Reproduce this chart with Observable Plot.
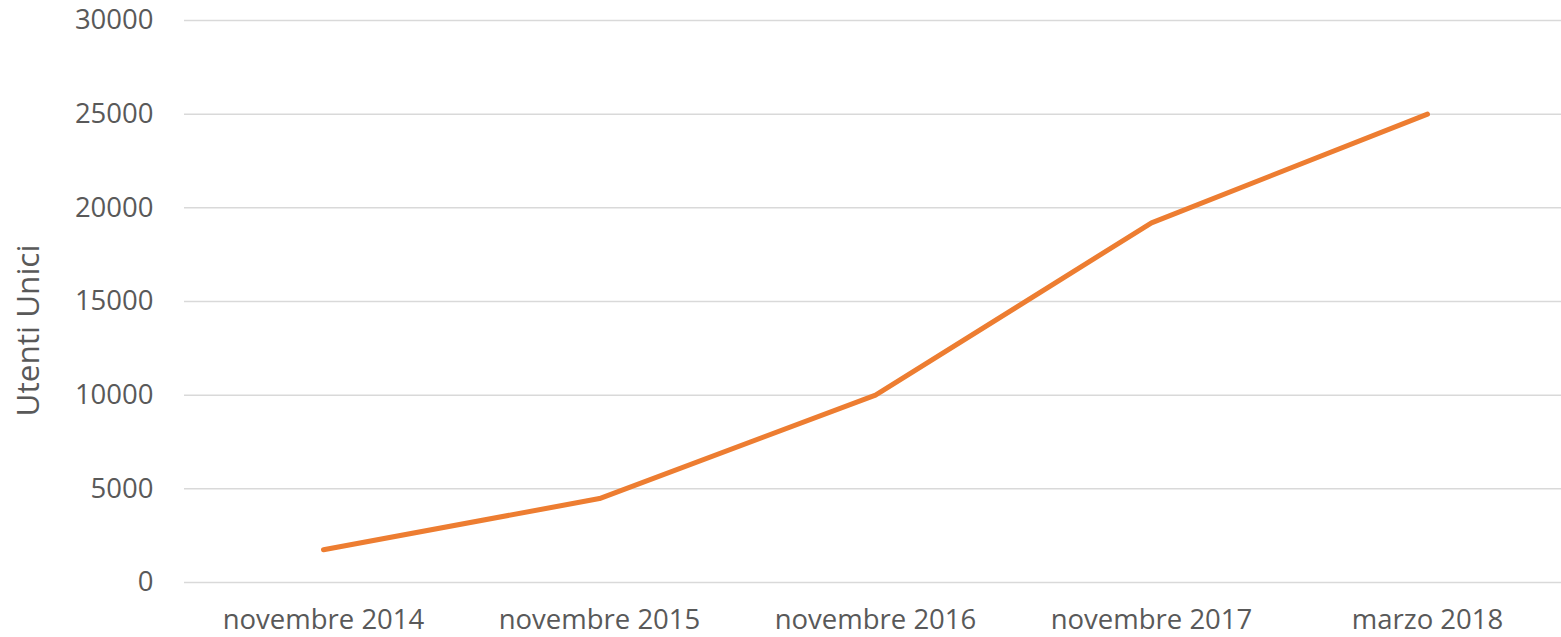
<!DOCTYPE html>
<html>
<head>
<meta charset="utf-8">
<script src="https://cdn.jsdelivr.net/npm/d3@7"></script>
<script src="https://cdn.jsdelivr.net/npm/@observablehq/plot@0.6"></script>
<style>
  html, body { margin: 0; padding: 0; background: #fff; overflow: hidden; }
  #chart svg { display: block; }
</style>
</head>
<body>
<div id="chart"></div>
<script>
const periods = ["novembre 2014", "novembre 2015", "novembre 2016", "novembre 2017", "marzo 2018"];
const utenti = [1750, 4480, 10000, 19200, 25000];
const yTicks = [0, 5000, 10000, 15000, 20000, 25000, 30000];
const yLabel = "Utenti Unici";

const data = periods.map((p, i) => ({period: p, value: utenti[i]}));

const font = "'Open Sans', sans-serif";
const textColor = "#595959";

const chart = Plot.plot({
  width: 1561,
  height: 637,
  marginLeft: 184,
  marginRight: 0,
  marginTop: 20,
  marginBottom: 55,
  style: {fontFamily: font, color: textColor, background: "#fff"},
  x: {type: "point", domain: periods, range: [321.5, 1428.5], padding: 0},
  y: {domain: [0, 30000]},
  marks: [
    Plot.gridY(yTicks, {stroke: "#d9d9d9", strokeOpacity: 1, strokeWidth: 1.5}),
    Plot.axisY({ticks: yTicks, tickSize: 0, tickPadding: 31, fontSize: 27.5, label: null, tickFormat: d => String(d), fill: textColor}),
    Plot.axisX({tickSize: 0, tickPadding: 27, fontSize: 27.5, label: null, fill: textColor}),
    Plot.text([yLabel], {frameAnchor: "left", textAnchor: "middle", text: d => d, rotate: -90, dx: -156, dy: 29, fontSize: 31.5, fill: textColor}),
    Plot.line(data, {x: "period", y: "value", stroke: "#ED7D31", strokeWidth: 5, strokeLinecap: "round", strokeLinejoin: "round"})
  ]
});
document.getElementById("chart").appendChild(chart);
</script>
</body>
</html>
